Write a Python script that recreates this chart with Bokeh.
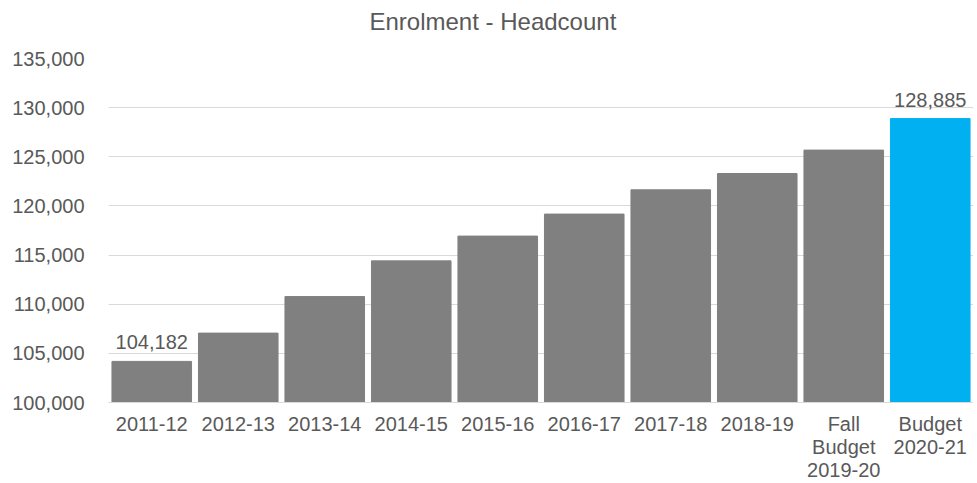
from bokeh.plotting import figure
from bokeh.models import Range1d, FactorRange, SingleIntervalTicker, NumeralTickFormatter, ColumnDataSource, Title
from bokeh.core.properties import value
from bokeh.embed import file_html
from bokeh.resources import INLINE

title_text = "Enrolment - Headcount"
categories = ["2011-12", "2012-13", "2013-14", "2014-15", "2015-16", "2016-17",
              "2017-18", "2018-19", "Fall\nBudget\n2019-20", "Budget\n2020-21"]
enrolment = [104182, 107060, 110780, 114410, 116930, 119170, 121640, 123300, 125680, 128885]
bar_colors = ["#808080"] * 9 + ["#00B0F0"]
labelled = [0, 9]

FONT = "Liberation Sans"
TXT = "#595959"

p = figure(width=973, height=483, output_backend="svg", toolbar_location=None,
           x_range=FactorRange(*categories, range_padding=0),
           y_range=Range1d(100000, 135000),
           min_border_left=108, min_border_right=0, min_border_top=58, min_border_bottom=80)

src = ColumnDataSource(dict(x=categories, top=enrolment, color=bar_colors))
p.vbar(x="x", top="top", bottom=100000, width=0.92, source=src,
       fill_color="color", line_color="color")

lab = ColumnDataSource(dict(x=[categories[i] for i in labelled],
                            y=[enrolment[i] for i in labelled],
                            t=[f"{enrolment[i]:,}" for i in labelled]))
p.text(x="x", y="y", text="t", source=lab, text_align="center", text_baseline="bottom",
       y_offset=-12, text_font=value(FONT), text_font_size="20px", text_color=TXT)

# spacer between the frame and the title
spacer = Title(text=" ", text_font_size="10px", standoff=11, text_color="white")
p.add_layout(spacer, "above")

p.title.text = title_text
p.title.align = "left"
p.title.offset = 261
p.title.standoff = 0
p.title.text_font = FONT
p.title.text_font_size = "24px"
p.title.text_font_style = "normal"
p.title.text_color = TXT

p.outline_line_color = None
p.background_fill_color = "white"
p.border_fill_color = "white"

p.xgrid.grid_line_color = None
p.ygrid.grid_line_color = "#d9d9d9"
p.ygrid.grid_line_width = 1

p.yaxis.ticker = SingleIntervalTicker(interval=5000)
p.yaxis.formatter = NumeralTickFormatter(format="0,0")
p.yaxis.axis_line_color = None
p.yaxis.major_tick_line_color = None
p.yaxis.minor_tick_line_color = None
p.yaxis.major_tick_out = 0
p.yaxis.major_label_standoff = 20
p.yaxis.major_label_text_font = FONT
p.yaxis.major_label_text_font_size = "20px"
p.yaxis.major_label_text_color = TXT

p.xaxis.axis_line_color = "#d9d9d9"
p.xaxis.major_tick_line_color = None
p.xaxis.major_tick_out = 0
p.xaxis.major_label_standoff = 10
p.xaxis.major_label_text_font = FONT
p.xaxis.major_label_text_font_size = "20px"
p.xaxis.major_label_text_color = TXT
p.xaxis.major_label_text_line_height = 1.05

open("out.html", "w").write(file_html(p, INLINE))
